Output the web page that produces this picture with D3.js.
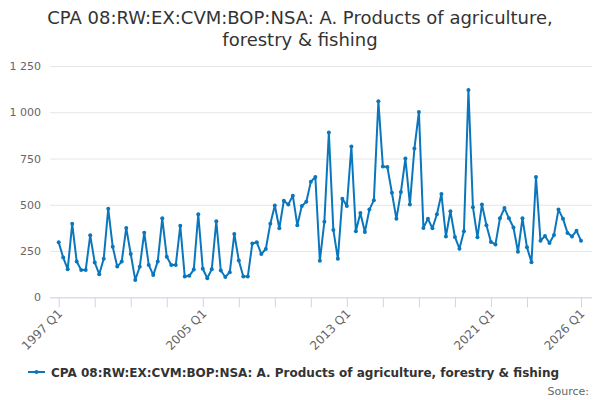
<!doctype html>
<html>
<head>
	<meta charset="utf-8">
	<title>CPA 08 exports</title>
	<script src="https://cdn.jsdelivr.net/npm/d3@7"></script>
	<style>
		body { margin: 0; background: #fff; }
		svg { font-family: "DejaVu Sans", sans-serif; }
	</style>
</head>
<body>
	<script>

		// quarters run from 1997 Q1 to 2026 Q1
		var firstYear = 1997;
		var values = [
			297, 215, 152, 397, 193, 147, 148, 335, 188, 125, 208, 478, 273, 166, 193, 375,
			234, 94, 165, 349, 175, 120, 194, 427, 219, 175, 174, 386, 112, 116, 150, 449,
			154, 103, 152, 411, 145, 110, 136, 342, 199, 112, 112, 291, 297, 234, 261, 398,
			496, 373, 522, 502, 549, 389, 494, 516, 625, 650, 197, 408, 891, 364, 208, 533,
			494, 815, 357, 456, 353, 474, 525, 1060, 707, 704, 565, 424, 569, 750, 502, 804,
			1002, 375, 424, 373, 449, 558, 329, 465, 326, 263, 357, 1120, 487, 324, 502, 389,
			299, 286, 427, 482, 427, 377, 246, 427, 270, 190, 650, 306, 331, 293, 337, 474,
			425, 348, 329, 359, 306
		];
		var yTicks = [0, 250, 500, 750, 1000, 1250];
		var xTickIndex = [0, 8, 16, 24, 32, 40, 48, 56, 64, 72, 80, 88, 96, 104, 116];
		var xLabelIndex = [0, 32, 64, 96, 116];

		var titleLines = ["CPA 08:RW:EX:CVM:BOP:NSA: A. Products of agriculture,", "forestry & fishing"];
		var seriesName = "CPA 08:RW:EX:CVM:BOP:NSA: A. Products of agriculture, forestry & fishing";

		var width = 600;
		var height = 400;
		var color = "#0a77bd";

		function quarterLabel(i) {
			return (firstYear + Math.floor(i / 4)) + " Q" + (i % 4 + 1);
		}

		var x = d3.scaleLinear()
					.domain([0, values.length - 1])
					.range([58.7, 581]);

		var y = d3.scaleLinear()
					.domain([0, 1250])
					.range([297.3, 66]);

		var fmt = d3.formatLocale({ decimal: ".", thousands: " ", grouping: [3], currency: ["", ""] }).format(",");

		var svg = d3.select("body")
				.append("svg")
				.attr("width", width)
				.attr("height", height);

		// title
		svg.append("text")
			.attr("text-anchor", "middle")
			.attr("font-size", 18)
			.attr("fill", "#333")
			.selectAll("tspan")
			.data(titleLines)
			.enter()
				.append("tspan")
				.attr("x", 300)
				.attr("y", function(d, i) { return 24 + i * 22; })
				.text(function(d) { return d; });

		// grid + y labels
		var yAxis = d3.axisLeft(y)
						.tickValues(yTicks)
						.tickSize(-(width - 8 - 50))
						.tickFormat(fmt);

		svg.append("g")
			.attr("transform", "translate(50,0)")
			.call(yAxis)
			.call(function(g) {
				g.select(".domain").remove();
				g.selectAll(".tick line").attr("stroke", "#e6e6e6");
				g.selectAll(".tick text")
					.attr("x", -9)
					.attr("fill", "#666")
					.attr("font-size", 11)
					.attr("font-family", "DejaVu Sans, sans-serif");
			});

		// x axis
		var xAxis = d3.axisBottom(x)
						.tickValues(xTickIndex)
						.tickSize(10)
						.tickSizeOuter(0)
						.tickFormat(function(d) { return xLabelIndex.indexOf(d) >= 0 ? quarterLabel(d) : ""; });

		svg.append("g")
			.attr("transform", "translate(0," + y(0) + ")")
			.call(xAxis)
			.call(function(g) {
				g.select(".domain").attr("stroke", "#ccd6eb").attr("d", "M50,0.5H" + (width - 8));
				g.selectAll(".tick line").attr("stroke", "#ccd6eb");
				g.selectAll(".tick text")
					.attr("fill", "#666")
					.attr("font-size", 12)
					.attr("font-family", "DejaVu Sans, sans-serif")
					.attr("text-anchor", "end")
					.attr("dy", null)
					.attr("y", 0)
					.attr("transform", "translate(4,17) rotate(-45)");
			});

		// series
		var line = d3.line()
					.x(function(d, i) { return x(i); })
					.y(function(d) { return y(d); });

		svg.append("path")
			.datum(values)
			.attr("fill", "none")
			.attr("stroke", color)
			.attr("stroke-width", 2)
			.attr("stroke-linejoin", "round")
			.attr("d", line);

		svg.selectAll("circle.pt")
			.data(values)
			.enter()
				.append("circle")
				.attr("class", "pt")
				.attr("cx", function(d, i) { return x(i); })
				.attr("cy", function(d) { return y(d); })
				.attr("r", 2)
				.attr("fill", color);

		// legend
		var legend = svg.append("g").attr("transform", "translate(28,372)");
		legend.append("line")
			.attr("x1", 0).attr("x2", 17)
			.attr("stroke", color)
			.attr("stroke-width", 2);
		legend.append("circle")
			.attr("cx", 8.5)
			.attr("r", 2)
			.attr("fill", color);
		legend.append("text")
			.attr("x", 23)
			.attr("y", 5)
			.attr("font-size", 12)
			.attr("font-weight", "bold")
			.attr("fill", "#333")
			.text(seriesName);

		svg.append("text")
			.attr("x", 589)
			.attr("y", 395)
			.attr("text-anchor", "end")
			.attr("font-size", 11)
			.attr("fill", "#666")
			.text("Source:");

	</script>
</body>
</html>
